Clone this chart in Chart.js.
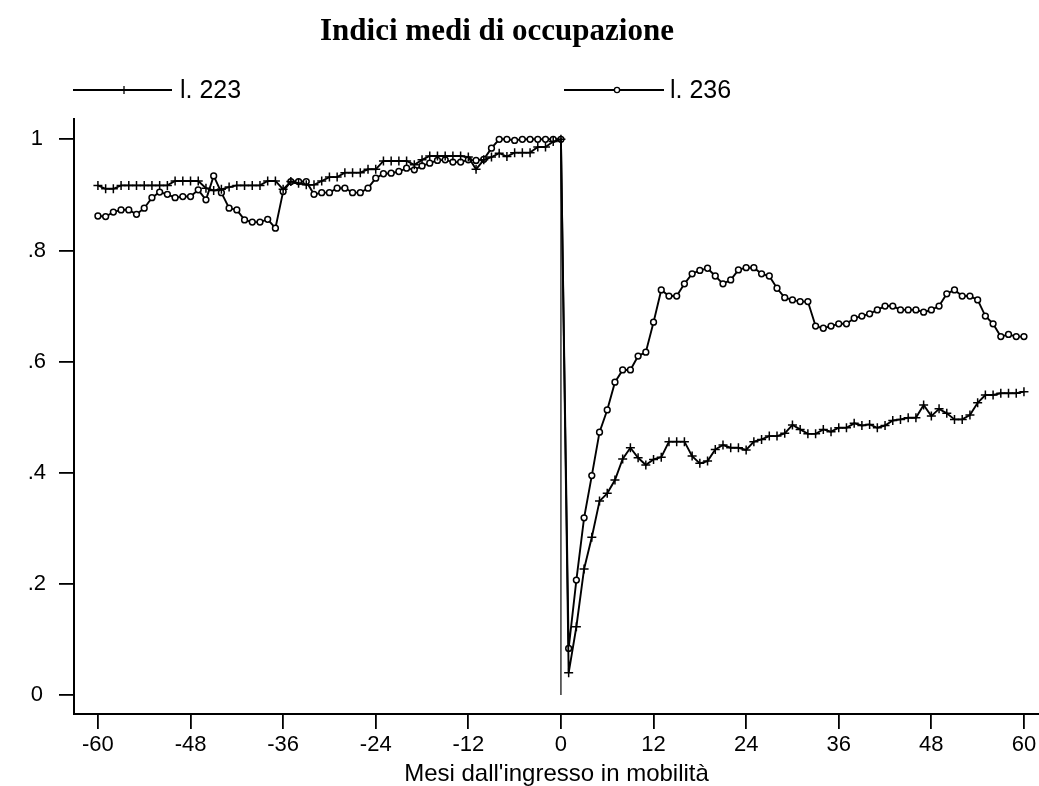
<!DOCTYPE html>
<html>
<head>
<meta charset="utf-8">
<title>Indici medi di occupazione</title>
<script src="https://cdn.jsdelivr.net/npm/chart.js@4.4.0/dist/chart.umd.min.js"></script>
<style>
  html, body { margin: 0; padding: 0; background: #fff; }
  canvas { display: block; }
</style>
</head>
<body>
<canvas id="grafico" width="1039" height="786"></canvas>
<script>
// mesi dall'ingresso in mobilità: -60 ... 60
const mesi = [];
for (let m = -60; m <= 60; m++) mesi.push(m);

// l. 223
const legge223 = [
  0.917, 0.911, 0.911, 0.917, 0.917, 0.917, 0.917, 0.917, 0.917, 0.917,
  0.925, 0.925, 0.925, 0.925, 0.912, 0.908, 0.910, 0.914, 0.917, 0.917,
  0.917, 0.917, 0.925, 0.925, 0.910, 0.924, 0.921, 0.918, 0.918, 0.925,
  0.932, 0.932, 0.940, 0.940, 0.940, 0.946, 0.946, 0.961, 0.961, 0.961,
  0.961, 0.954, 0.963, 0.970, 0.970, 0.970, 0.970, 0.970, 0.968, 0.946,
  0.963, 0.968, 0.975, 0.969, 0.976, 0.976, 0.976, 0.986, 0.986, 0.996,
  1.000,
  0.040, 0.123, 0.227, 0.284, 0.349, 0.363, 0.387, 0.425, 0.445, 0.427,
  0.414, 0.424, 0.428, 0.456, 0.456, 0.456, 0.430, 0.417, 0.421, 0.442,
  0.450, 0.445, 0.445, 0.441, 0.456, 0.460, 0.466, 0.466, 0.471, 0.486,
  0.478, 0.470, 0.470, 0.478, 0.474, 0.481, 0.481, 0.489, 0.485, 0.487,
  0.481, 0.485, 0.494, 0.496, 0.499, 0.499, 0.522, 0.502, 0.515, 0.507,
  0.496, 0.496, 0.504, 0.526, 0.540, 0.540, 0.543, 0.543, 0.543, 0.546
];

// l. 236
const legge236 = [
  0.862, 0.861, 0.869, 0.873, 0.873, 0.865, 0.876, 0.895, 0.905, 0.901,
  0.895, 0.897, 0.897, 0.909, 0.891, 0.934, 0.904, 0.876, 0.873, 0.855,
  0.851, 0.851, 0.856, 0.840, 0.906, 0.924, 0.924, 0.924, 0.901, 0.904,
  0.904, 0.912, 0.912, 0.904, 0.904, 0.912, 0.930, 0.938, 0.939, 0.942,
  0.948, 0.945, 0.952, 0.957, 0.962, 0.963, 0.959, 0.959, 0.963, 0.962,
  0.964, 0.984, 1.000, 1.000, 0.998, 1.000, 1.000, 1.000, 1.000, 1.000,
  1.000,
  0.084, 0.207, 0.319, 0.395, 0.473, 0.513, 0.563, 0.585, 0.585, 0.610,
  0.617, 0.671, 0.729, 0.718, 0.718, 0.740, 0.758, 0.764, 0.768, 0.754,
  0.740, 0.747, 0.765, 0.769, 0.769, 0.758, 0.754, 0.732, 0.715, 0.711,
  0.708, 0.708, 0.664, 0.660, 0.664, 0.668, 0.668, 0.678, 0.682, 0.686,
  0.693, 0.700, 0.700, 0.693, 0.693, 0.693, 0.689, 0.693, 0.700, 0.722,
  0.729, 0.718, 0.718, 0.711, 0.682, 0.668, 0.645, 0.649, 0.645, 0.645
];

const tickX = [-60, -48, -36, -24, -12, 0, 12, 24, 36, 48, 60];
const tickY = [0, 0.2, 0.4, 0.6, 0.8, 1];
const etichetteY = ['0', '.2', '.4', '.6', '.8', '1'];

const SANS = '"Liberation Sans", Arial, Helvetica, sans-serif';
const SERIF = '"Liberation Serif", "Times New Roman", serif';

const punti = (valori) => mesi.map((m, i) => ({ x: m, y: valori[i] }));

// titolo e legenda sopra il grafico
const intestazione = {
  id: 'intestazione',
  afterDraw(chart) {
    const ctx = chart.ctx;
    ctx.save();
    ctx.fillStyle = '#000';
    ctx.font = 'bold 31px ' + SERIF;
    ctx.textAlign = 'center';
    ctx.textBaseline = 'middle';
    ctx.fillText('Indici medi di occupazione', 497, 32);

    const yLeg = 90;
    ctx.strokeStyle = '#000';
    ctx.lineWidth = 1.8;
    ctx.beginPath();
    ctx.moveTo(73, yLeg); ctx.lineTo(172, yLeg);
    ctx.moveTo(564, yLeg); ctx.lineTo(664, yLeg);
    ctx.stroke();
    ctx.lineWidth = 1.3;
    ctx.beginPath();
    ctx.moveTo(124, yLeg - 4); ctx.lineTo(124, yLeg + 4);
    ctx.stroke();
    ctx.beginPath();
    ctx.arc(617, yLeg, 2.6, 0, Math.PI * 2);
    ctx.fillStyle = '#fff';
    ctx.fill();
    ctx.stroke();

    ctx.fillStyle = '#000';
    ctx.font = '25px ' + SANS;
    ctx.textAlign = 'left';
    ctx.fillText('l. 223', 180, yLeg + 1);
    ctx.fillText('l. 236', 670, yLeg + 1);
    ctx.restore();
  }
};

new Chart(document.getElementById('grafico'), {
  type: 'line',
  data: {
    datasets: [
      {
        label: 'l. 223',
        data: punti(legge223),
        borderColor: '#000',
        borderWidth: 1.9,
        pointStyle: 'cross',
        pointRadius: 4.5,
        pointBorderWidth: 1.5,
        pointBorderColor: '#000',
        tension: 0
      },
      {
        label: 'l. 236',
        data: punti(legge236),
        borderColor: '#000',
        borderWidth: 1.9,
        pointStyle: 'circle',
        pointRadius: 2.9,
        pointBorderWidth: 1.5,
        pointBorderColor: '#000',
        pointBackgroundColor: '#fff',
        tension: 0
      },
      {
        label: 'mese 0',
        data: [{ x: 0, y: 0 }, { x: 0, y: 1 }],
        borderColor: '#000',
        borderWidth: 1.2,
        pointRadius: 0
      }
    ]
  },
  options: {
    responsive: false,
    animation: false,
    devicePixelRatio: 1,
    layout: { autoPadding: false, padding: { top: 119, left: 0, right: 0, bottom: 0 } },
    plugins: {
      legend: { display: false },
      title: { display: false },
      tooltip: { enabled: false }
    },
    scales: {
      x: {
        type: 'linear',
        min: -63.1,
        max: 61.95,
        afterBuildTicks: (scale) => { scale.ticks = tickX.map(v => ({ value: v })); },
        afterFit: (scale) => {
          scale.height = 72;
          scale.paddingLeft = 0;
          scale.paddingRight = 0;
        },
        grid: { drawOnChartArea: false, drawTicks: true, tickLength: 15, color: '#000', lineWidth: 1.8 },
        border: { display: true, color: '#000', width: 2 },
        ticks: {
          color: '#000',
          font: { family: SANS, size: 22 },
          padding: 3,
          maxRotation: 0,
          autoSkip: false,
          callback: (v) => String(v)
        },
        title: {
          display: true,
          text: "Mesi dall'ingresso in mobilità",
          color: '#000',
          font: { family: SANS, size: 24 },
          padding: { top: -4, bottom: -3 }
        }
      },
      y: {
        type: 'linear',
        min: -0.034,
        max: 1.0365,
        afterBuildTicks: (scale) => { scale.ticks = tickY.map(v => ({ value: v })); },
        afterFit: (scale) => { scale.width = 74; },
        grid: { drawOnChartArea: false, drawTicks: true, tickLength: 15, color: '#000', lineWidth: 1.8 },
        border: { display: true, color: '#000', width: 2 },
        ticks: {
          color: '#000',
          font: { family: SANS, size: 22 },
          crossAlign: 'center',
          padding: 13,
          autoSkip: false,
          callback: (v) => etichetteY[tickY.indexOf(v)]
        }
      }
    }
  },
  plugins: [intestazione]
});
</script>
</body>
</html>
